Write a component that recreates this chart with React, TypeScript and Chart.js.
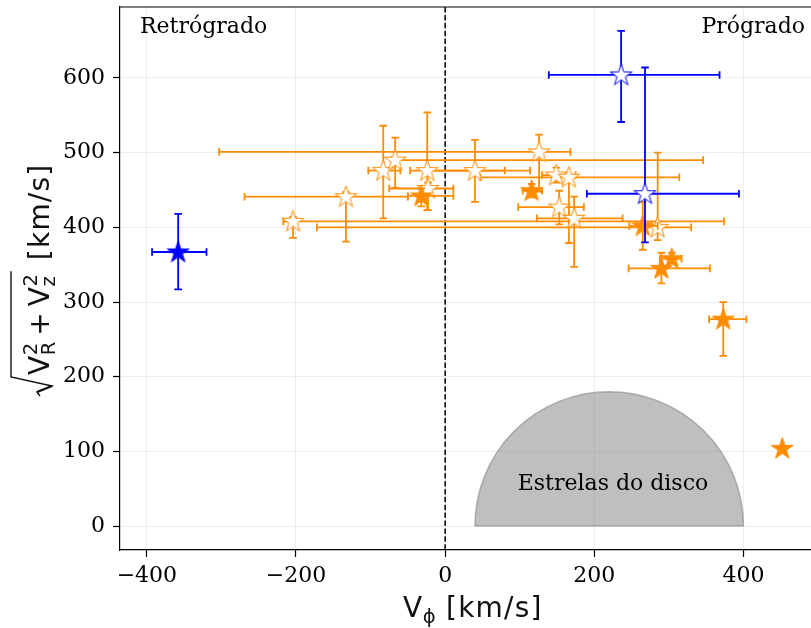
import React, { useEffect, useRef } from 'react';
import { Chart, registerables } from 'chart.js';

Chart.register(...registerables);

// ---------- data ----------
// Orange, open stars
const orangeOpenX = [-204, -133, -83, -67, -24, 40, 126, 149, 166, 153, 173, 285, -23];
const orangeOpenY = [408, 441, 476, 490, 476, 476, 501, 470, 467, 427, 412, 400, 452];
const orangeOpenXLow = [-217, -269, -103, -72, -47, -20, -303, 130, 47, 98, 123, -172, -75];
const orangeOpenXHigh = [374, -50, -60, 346, 80, 114, 168, 175, 314, 186, 238, 330, 11];
const orangeOpenYLow = [386, 381, 412, 453, 423, 434, 448, 460, 379, 404, 347, 383, 423];
const orangeOpenYHigh = [414, 447, 536, 520, 554, 517, 524, 480, 470, 449, 441, 500, 460];

// Orange, filled stars
const orangeFilledX = [-32, 116, 265, 290, 304, 373, 452];
const orangeFilledY = [442, 449, 402, 345, 358, 277, 104];
const orangeFilledXLow = [-50, 104, 247, 246, 288, 354, 452];
const orangeFilledXHigh = [11, 130, 285, 355, 317, 404, 452];
const orangeFilledYLow = [428, 440, 370, 325, 352, 228, 104];
const orangeFilledYHigh = [452, 458, 434, 366, 366, 300, 104];

// Blue, open stars
const blueOpenX = [236, 268];
const blueOpenY = [604, 445];
const blueOpenXLow = [139, 190];
const blueOpenXHigh = [368, 394];
const blueOpenYLow = [541, 380];
const blueOpenYHigh = [663, 614];

// Blue, filled star
const blueFilledX = [-358];
const blueFilledY = [367];
const blueFilledXLow = [-393];
const blueFilledXHigh = [-320];
const blueFilledYLow = [317];
const blueFilledYHigh = [418];

// Disc region (half circle)
const discCenterX = 220;
const discRadius = 180;

// Axes
const xTicks = [-400, -200, 0, 200, 400];
const yTicks = [0, 100, 200, 300, 400, 500, 600];
const xMin = -436;
const xMax = 500;
const yMin = -32;
const yMax = 695;

const ORANGE = '#ff8c00';
const BLUE = '#0000ff';

function pts(xs: number[], ys: number[]) {
  return xs.map((x, i) => ({ x, y: ys[i] }));
}

function makeStar(color: string, filled: boolean, R: number) {
  const size = Math.ceil(R * 2 + 4);
  const c = document.createElement('canvas');
  c.width = size;
  c.height = size;
  const ctx = c.getContext('2d')!;
  const cx = size / 2;
  const cy = size / 2 + 0.5;
  ctx.beginPath();
  for (let i = 0; i < 10; i++) {
    const a = -Math.PI / 2 + (i * Math.PI) / 5;
    const r = i % 2 === 0 ? R : R * 0.381966;
    const px = cx + r * Math.cos(a);
    const py = cy + r * Math.sin(a);
    if (i === 0) ctx.moveTo(px, py);
    else ctx.lineTo(px, py);
  }
  ctx.closePath();
  ctx.fillStyle = filled ? color : '#ffffff';
  ctx.fill();
  ctx.lineWidth = 1;
  ctx.strokeStyle = color;
  ctx.stroke();
  return c;
}

const decor = {
  id: 'decor',
  beforeDatasetsDraw(chart: any) {
    const { ctx, chartArea: ca, scales } = chart;
    const x = scales.x;
    const y = scales.y;
    ctx.save();
    ctx.beginPath();
    ctx.rect(ca.left, ca.top, ca.right - ca.left, ca.bottom - ca.top);
    ctx.clip();
    // disc half circle
    const cx = x.getPixelForValue(discCenterX);
    const cy = y.getPixelForValue(0);
    const rx = x.getPixelForValue(discCenterX + discRadius) - cx;
    const ry = cy - y.getPixelForValue(discRadius);
    ctx.beginPath();
    ctx.ellipse(cx, cy, rx, ry, 0, Math.PI, 2 * Math.PI);
    ctx.closePath();
    ctx.fillStyle = 'rgba(128,128,128,0.5)';
    ctx.fill();
    ctx.strokeStyle = 'rgba(128,128,128,0.55)';
    ctx.lineWidth = 1.5;
    ctx.stroke();
    // zero line
    const x0 = x.getPixelForValue(0);
    ctx.setLineDash([5.5, 2.4]);
    ctx.strokeStyle = '#000';
    ctx.lineWidth = 1.5;
    ctx.beginPath();
    ctx.moveTo(x0, ca.top);
    ctx.lineTo(x0, ca.bottom);
    ctx.stroke();
    ctx.restore();
  },
  beforeDatasetDraw(chart: any, args: any) {
    const ds = chart.data.datasets[args.index];
    const e = ds.errs;
    if (!e) return;
    const { ctx, scales } = chart;
    const x = scales.x;
    const y = scales.y;
    const cap = 3.8;
    ctx.save();
    ctx.strokeStyle = ds.errColor;
    ctx.lineWidth = 1.8;
    ds.data.forEach((p: any, i: number) => {
      const px = x.getPixelForValue(p.x);
      const py = y.getPixelForValue(p.y);
      if (e.xLow[i] !== e.xHigh[i]) {
        const xl = x.getPixelForValue(e.xLow[i]);
        const xh = x.getPixelForValue(e.xHigh[i]);
        ctx.beginPath();
        ctx.moveTo(xl, py);
        ctx.lineTo(xh, py);
        ctx.moveTo(xl, py - cap);
        ctx.lineTo(xl, py + cap);
        ctx.moveTo(xh, py - cap);
        ctx.lineTo(xh, py + cap);
        ctx.stroke();
      }
      if (e.yLow[i] !== e.yHigh[i]) {
        const yl = y.getPixelForValue(e.yLow[i]);
        const yh = y.getPixelForValue(e.yHigh[i]);
        ctx.beginPath();
        ctx.moveTo(px, yl);
        ctx.lineTo(px, yh);
        ctx.moveTo(px - cap, yl);
        ctx.lineTo(px + cap, yl);
        ctx.moveTo(px - cap, yh);
        ctx.lineTo(px + cap, yh);
        ctx.stroke();
      }
    });
    ctx.restore();
  },
  afterDraw(chart: any) {
    const { ctx, chartArea: ca } = chart;
    ctx.save();
    // top & right frame
    ctx.strokeStyle = '#000';
    ctx.lineWidth = 1.2;
    ctx.beginPath();
    ctx.moveTo(ca.left, ca.top);
    ctx.lineTo(ca.right, ca.top);
    ctx.lineTo(ca.right, ca.bottom);
    ctx.stroke();

    // annotations
    ctx.fillStyle = '#000';
    ctx.font = '22px "DejaVu Serif"';
    ctx.textBaseline = 'alphabetic';
    ctx.textAlign = 'left';
    ctx.fillText('Retrógrado', 140, 33);
    ctx.textAlign = 'right';
    ctx.fillText('Prógrado', 805, 33);
    ctx.textAlign = 'center';
    ctx.fillText('Estrelas do disco', 613, 490);

    // x title: V_ϕ [km/s]
    const big = '28px "DejaVu Sans"';
    const small = '19.6px "DejaVu Sans"';
    ctx.fillStyle = '#111';
    ctx.textAlign = 'left';
    ctx.font = big;
    const wV = ctx.measureText('V').width;
    (ctx as any).letterSpacing = '1.2px';
    const wUnit = ctx.measureText('[km/s]').width;
    (ctx as any).letterSpacing = '0px';
    ctx.font = small;
    const wPhi = ctx.measureText('\u03d5').width;
    const gap = 11;
    const sx = 403;
    const by = 617;
    ctx.font = big;
    ctx.fillText('V', sx, by);
    ctx.font = small;
    ctx.fillText('\u03d5', sx + wV + 0.5, by + 6);
    ctx.font = big;
    (ctx as any).letterSpacing = '1.2px';
    ctx.fillText('[km/s]', sx + wV + wPhi + gap, by);
    (ctx as any).letterSpacing = '0px';
    void wUnit;

    // y title: sqrt(V_R^2 + V_z^2) [km/s]
    ctx.save();
    ctx.translate(49, 0);
    ctx.rotate(-Math.PI / 2);
    let u = -397;
    const rStart = u;
    u += 22;
    const drawV = (sub: string) => {
      ctx.font = big;
      ctx.fillText('V', u, 0);
      u += ctx.measureText('V').width + 0.5;
      ctx.font = small;
      const w2 = ctx.measureText('2').width;
      const ws = ctx.measureText(sub).width;
      ctx.fillText('2', u, -12);
      ctx.fillText(sub, u, 6);
      u += Math.max(w2, ws);
    };
    drawV('R');
    u += 6;
    ctx.font = big;
    ctx.fillText('+', u, 0);
    u += ctx.measureText('+').width + 6;
    drawV('z');
    u += 3;
    const overEnd = u;
    // radical
    ctx.lineWidth = 1.4;
    ctx.strokeStyle = '#111';
    ctx.beginPath();
    ctx.moveTo(rStart + 1, -9);
    ctx.lineTo(rStart + 5, -12);
    ctx.lineTo(rStart + 11, 3);
    ctx.lineTo(rStart + 20, -38);
    ctx.lineTo(overEnd, -38);
    ctx.stroke();
    ctx.lineWidth = 2.4;
    ctx.beginPath();
    ctx.moveTo(rStart + 5, -12);
    ctx.lineTo(rStart + 11, 3);
    ctx.stroke();
    u += 11;
    ctx.font = big;
    (ctx as any).letterSpacing = '1.2px';
    ctx.fillText('[km/s]', u, 0);
    (ctx as any).letterSpacing = '0px';
    ctx.restore();

    ctx.restore();
  },
};

export default function App() {
  const ref = useRef<HTMLCanvasElement>(null);
  useEffect(() => {
    if (!ref.current) return;
    const R = 11.5;
    const oOpen = makeStar(ORANGE, false, R);
    const oFill = makeStar(ORANGE, true, R);
    const bOpen = makeStar(BLUE, false, R);
    const bFill = makeStar(BLUE, true, R);

    const zeroPad = (s: any) => {
      s.paddingTop = 0;
      s.paddingBottom = 0;
      s.paddingLeft = 0;
      s.paddingRight = 0;
    };

    const chart = new Chart(ref.current, {
      type: 'scatter',
      data: {
        datasets: [
          {
            label: 'blue filled',
            data: pts(blueFilledX, blueFilledY),
            pointStyle: bFill,
            errs: { xLow: blueFilledXLow, xHigh: blueFilledXHigh, yLow: blueFilledYLow, yHigh: blueFilledYHigh },
            errColor: BLUE,
          } as any,
          {
            label: 'blue open',
            data: pts(blueOpenX, blueOpenY),
            pointStyle: bOpen,
            errs: { xLow: blueOpenXLow, xHigh: blueOpenXHigh, yLow: blueOpenYLow, yHigh: blueOpenYHigh },
            errColor: BLUE,
          } as any,
          {
            label: 'orange filled',
            data: pts(orangeFilledX, orangeFilledY),
            pointStyle: oFill,
            errs: { xLow: orangeFilledXLow, xHigh: orangeFilledXHigh, yLow: orangeFilledYLow, yHigh: orangeFilledYHigh },
            errColor: ORANGE,
          } as any,
          {
            label: 'orange open',
            data: pts(orangeOpenX, orangeOpenY),
            pointStyle: oOpen,
            errs: { xLow: orangeOpenXLow, xHigh: orangeOpenXHigh, yLow: orangeOpenYLow, yHigh: orangeOpenYHigh },
            errColor: ORANGE,
          } as any,
        ],
      },
      options: {
        animation: false,
        responsive: false,
        maintainAspectRatio: false,
        devicePixelRatio: 1,
        layout: { padding: { top: 7, right: 1, left: 0, bottom: 0 } },
        plugins: { legend: { display: false }, tooltip: { enabled: false } },
        scales: {
          x: {
            type: 'linear',
            min: xMin,
            max: xMax,
            afterBuildTicks: (s: any) => {
              s.ticks = xTicks.map((v) => ({ value: v }));
            },
            afterFit: (s: any) => {
              s.height = 78;
              zeroPad(s);
            },
            ticks: {
              autoSkip: false,
              maxRotation: 0,
              color: '#000',
              font: { family: 'DejaVu Serif', size: 22 },
              padding: 6,
              callback: (v: any) => (v < 0 ? '\u2212' + Math.abs(v) : String(v)),
            },
            grid: { color: '#ededed', lineWidth: 1, tickColor: '#000', tickLength: 7, tickWidth: 1.2 },
            border: { display: true, color: '#000', width: 1.2 },
          },
          y: {
            type: 'linear',
            min: yMin,
            max: yMax,
            afterBuildTicks: (s: any) => {
              s.ticks = yTicks.map((v) => ({ value: v }));
            },
            afterFit: (s: any) => {
              s.width = 120;
              zeroPad(s);
            },
            ticks: {
              autoSkip: false,
              color: '#000',
              font: { family: 'DejaVu Serif', size: 22 },
              padding: 8,
              callback: (v: any) => String(v),
            },
            grid: { color: '#ededed', lineWidth: 1, tickColor: '#000', tickLength: 7, tickWidth: 1.2 },
            border: { display: true, color: '#000', width: 1.2 },
          },
        },
      } as any,
      plugins: [decor],
    } as any);
    return () => chart.destroy();
  }, []);

  return (
    <div
      style={{
        position: 'fixed',
        left: 0,
        top: 0,
        width: 811,
        height: 628,
        overflow: 'hidden',
        background: '#fff',
      }}
    >
      <canvas ref={ref} width={823} height={628} style={{ display: 'block', width: 823, height: 628 }} />
    </div>
  );
}
